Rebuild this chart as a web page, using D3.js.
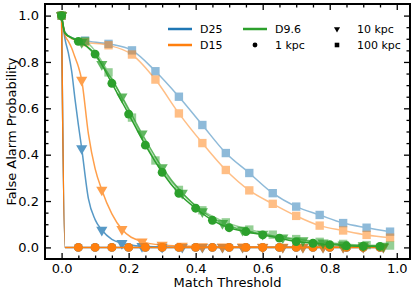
<!DOCTYPE html>
<html>
<head>
<meta charset="utf-8">
<script src="https://cdn.jsdelivr.net/npm/d3@7"></script>
<style>
  body { margin: 0; background: #fff; }
  text { font-family: "DejaVu Sans", sans-serif; }
</style>
</head>
<body>
<div id="canvas"></div>
<script>
"use strict"

/* marker thresholds for each distance */
const xCircle = [0, 0.05, 0.10, 0.15, 0.20, 0.25, 0.30, 0.35, 0.40, 0.45, 0.50, 0.55, 0.60, 0.65, 0.70, 0.75, 0.80, 0.85, 0.90, 0.95];
const xTriangle = [0, 0.06, 0.12, 0.18, 0.24, 0.30, 0.36, 0.42, 0.48, 0.54, 0.60, 0.66, 0.72, 0.78, 0.84, 0.90, 0.96];
const xSquare = [0, 0.07, 0.14, 0.21, 0.28, 0.35, 0.42, 0.49, 0.56, 0.63, 0.70, 0.77, 0.84, 0.91, 0.98];

/* false alarm probability at the marker thresholds */
const d25_1kpc = [1, 0, 0, 0, 0, 0, 0, 0, 0, 0, 0, 0, 0, 0, 0, 0, 0, 0, 0, 0];
const d15_1kpc = [1, 0, 0, 0, 0, 0, 0, 0, 0, 0, 0, 0, 0, 0, 0, 0, 0, 0, 0, 0];
const d96_1kpc = [1, 0.889, 0.834, 0.708, 0.575, 0.441, 0.324, 0.233, 0.169, 0.117, 0.085, 0.068, 0.054, 0.040, 0.025, 0.018, 0.012, 0.007, 0.005, 0.004];

const d25_10kpc = [1, 0.427, 0.075, 0.018, 0.005, 0.002, 0.001, 0.001, 0.001, 0.001, 0.001, 0.001, 0.001, 0.001, 0.001, 0.001, 0.001];
const d15_10kpc = [1, 0.722, 0.248, 0.078, 0.025, 0.010, 0.006, 0.004, 0.003, 0.003, 0.002, 0.002, 0.002, 0.002, 0.002, 0.002, 0.002];
const d96_10kpc = [1, 0.885, 0.790, 0.650, 0.490, 0.345, 0.235, 0.155, 0.104, 0.075, 0.058, 0.042, 0.030, 0.020, 0.012, 0.008, 0.006];

const d25_100kpc = [1, 0.892, 0.878, 0.850, 0.760, 0.650, 0.528, 0.407, 0.321, 0.234, 0.176, 0.140, 0.105, 0.085, 0.068];
const d15_100kpc = [1, 0.885, 0.872, 0.832, 0.724, 0.578, 0.450, 0.334, 0.246, 0.188, 0.136, 0.094, 0.073, 0.054, 0.042];
const d96_100kpc = [1, 0.890, 0.755, 0.560, 0.375, 0.248, 0.160, 0.108, 0.077, 0.055, 0.036, 0.024, 0.015, 0.010, 0.008];

/* extra points (line only) */
const kneeX_1kpc = [0.01];
const kneeY_d25_1kpc = [0];
const kneeY_d15_1kpc = [0];
const kneeX_d96_1kpc = [0.01, 0.03];
const kneeY_d96_1kpc = [0.925, 0.903];

const kneeX_d25_10kpc = [0.01, 0.02, 0.03, 0.04, 0.05, 0.08, 0.10, 0.15];
const kneeY_d25_10kpc = [0.90, 0.84, 0.76, 0.64, 0.53, 0.21, 0.12, 0.035];
const kneeX_d15_10kpc = [0.01, 0.02, 0.03, 0.04, 0.05, 0.08, 0.10, 0.15];
const kneeY_d15_10kpc = [0.915, 0.89, 0.86, 0.82, 0.78, 0.49, 0.34, 0.145];
const kneeX_d96_10kpc = [0.01, 0.03];
const kneeY_d96_10kpc = [0.925, 0.905];

const kneeX_100kpc = [0.01, 0.03];
const kneeY_d25_100kpc = [0.93, 0.905];
const kneeY_d15_100kpc = [0.925, 0.900];
const kneeY_d96_100kpc = [0.925, 0.905];

const xTicks = [0, 0.2, 0.4, 0.6, 0.8, 1.0];
const yTicks = [0, 0.2, 0.4, 0.6, 0.8, 1.0];

/* colours and marker styles */
const colors = {"D25": "#1f77b4", "D15": "#ff7f0e", "D9.6": "#2ca02c"};
const alphas = {"1 kpc": 1, "10 kpc": 0.75, "100 kpc": 0.5};

let series = [
    {det: "D25", dist: "1 kpc", xs: xCircle, ys: d25_1kpc, kx: kneeX_1kpc, ky: kneeY_d25_1kpc},
    {det: "D25", dist: "10 kpc", xs: xTriangle, ys: d25_10kpc, kx: kneeX_d25_10kpc, ky: kneeY_d25_10kpc},
    {det: "D25", dist: "100 kpc", xs: xSquare, ys: d25_100kpc, kx: kneeX_100kpc, ky: kneeY_d25_100kpc},
    {det: "D15", dist: "1 kpc", xs: xCircle, ys: d15_1kpc, kx: kneeX_1kpc, ky: kneeY_d15_1kpc},
    {det: "D15", dist: "10 kpc", xs: xTriangle, ys: d15_10kpc, kx: kneeX_d15_10kpc, ky: kneeY_d15_10kpc},
    {det: "D15", dist: "100 kpc", xs: xSquare, ys: d15_100kpc, kx: kneeX_100kpc, ky: kneeY_d15_100kpc},
    {det: "D9.6", dist: "1 kpc", xs: xCircle, ys: d96_1kpc, kx: kneeX_d96_1kpc, ky: kneeY_d96_1kpc},
    {det: "D9.6", dist: "10 kpc", xs: xTriangle, ys: d96_10kpc, kx: kneeX_d96_10kpc, ky: kneeY_d96_10kpc},
    {det: "D9.6", dist: "100 kpc", xs: xSquare, ys: d96_100kpc, kx: kneeX_100kpc, ky: kneeY_d96_100kpc}
];

let drawing = d3.select("#canvas")
    .append("svg")
    .attr("width", 415)
    .attr("height", 295);

/* plot frame in pixels */
let frameLeft = 45, frameRight = 410, frameTop = 4, frameBottom = 259;

let x = d3.scaleLinear().domain([-0.0495, 1.0395]).range([frameLeft, frameRight]);
let y = d3.scaleLinear().domain([-0.05, 1.05]).range([frameBottom, frameTop]);

/* marker shapes */
function markerPath(dist, scale) {
    if (dist === "1 kpc") return d3.symbol(d3.symbolCircle, 62 * scale)();
    if (dist === "10 kpc") return d3.symbol(d3.symbolTriangle, 54 * scale)();
    return d3.symbol(d3.symbolSquare, 70 * scale)();
}
function markerRotate(dist) {
    return dist === "10 kpc" ? " rotate(180)" : "";
}

/* curves + markers */
let line = d3.line()
    .x(d => x(d[0]))
    .y(d => y(d[1]))
    .curve(d3.curveMonotoneX);

let plot = drawing.append("g");

series.forEach(s => {
    let pts = s.xs.map((v, i) => [v, s.ys[i]]);
    let allPts = pts.concat(s.kx.map((v, i) => [v, s.ky[i]]))
        .sort((a, b) => a[0] - b[0]);
    let g = plot.append("g").attr("opacity", alphas[s.dist]);
    g.append("path")
        .attr("d", line(allPts))
        .attr("fill", "none")
        .attr("stroke", colors[s.det])
        .attr("stroke-width", 1.5);
    g.selectAll("path.mark")
        .data(pts)
        .enter()
        .append("path")
        .attr("class", "mark")
        .attr("d", markerPath(s.dist, 1))
        .attr("transform", d => "translate(" + x(d[0]) + "," + y(d[1]) + ")" + markerRotate(s.dist))
        .attr("fill", colors[s.det]);
});

/* axes: ticks point inward on all four sides */
let minorX = d3.range(1, 21).map(i => i * 0.05).filter(v => Math.abs(v * 5 - Math.round(v * 5)) > 1e-6);
let minorY = minorX;

function styleAxis(g) {
    g.select(".domain").remove();
    g.selectAll(".tick line").attr("stroke", "#000").attr("stroke-width", 1.3);
    g.selectAll(".tick text")
        .attr("font-family", "DejaVu Sans")
        .attr("font-size", 13)
        .attr("fill", "#000");
}

drawing.append("g")
    .attr("transform", "translate(0," + frameBottom + ")")
    .call(d3.axisBottom(x).tickValues(xTicks).tickFormat(d3.format(".1f")).tickSize(-6).tickPadding(4.5))
    .call(styleAxis);
drawing.append("g")
    .attr("transform", "translate(0," + frameBottom + ")")
    .call(d3.axisBottom(x).tickValues(minorX).tickFormat("").tickSize(-3.5))
    .call(styleAxis);
drawing.append("g")
    .attr("transform", "translate(0," + frameTop + ")")
    .call(d3.axisTop(x).tickValues(xTicks).tickFormat("").tickSize(-6))
    .call(styleAxis);
drawing.append("g")
    .attr("transform", "translate(0," + frameTop + ")")
    .call(d3.axisTop(x).tickValues(minorX).tickFormat("").tickSize(-3.5))
    .call(styleAxis);

drawing.append("g")
    .attr("transform", "translate(" + frameLeft + ",0)")
    .call(d3.axisLeft(y).tickValues(yTicks).tickFormat(d3.format(".1f")).tickSize(-6).tickPadding(6))
    .call(styleAxis);
drawing.append("g")
    .attr("transform", "translate(" + frameLeft + ",0)")
    .call(d3.axisLeft(y).tickValues(minorY).tickFormat("").tickSize(-3.5))
    .call(styleAxis);
drawing.append("g")
    .attr("transform", "translate(" + frameRight + ",0)")
    .call(d3.axisRight(y).tickValues(yTicks).tickFormat("").tickSize(-6))
    .call(styleAxis);
drawing.append("g")
    .attr("transform", "translate(" + frameRight + ",0)")
    .call(d3.axisRight(y).tickValues(minorY).tickFormat("").tickSize(-3.5))
    .call(styleAxis);

/* frame */
drawing.append("rect")
    .attr("x", frameLeft)
    .attr("y", frameTop)
    .attr("width", frameRight - frameLeft)
    .attr("height", frameBottom - frameTop)
    .attr("fill", "none")
    .attr("stroke", "#000")
    .attr("stroke-width", 2);

/* axis labels */
drawing.append("text")
    .attr("x", (frameLeft + frameRight) / 2)
    .attr("y", 287)
    .attr("text-anchor", "middle")
    .attr("font-size", 13)
    .text("Match Threshold");

drawing.append("text")
    .attr("transform", "translate(16," + (frameTop + frameBottom) / 2 + ") rotate(-90)")
    .attr("text-anchor", "middle")
    .attr("font-size", 13)
    .text("False Alarm Probability");

/* legend: three columns, two rows */
let legendItems = [
    {kind: "line", key: "D25", col: 0, row: 0},
    {kind: "line", key: "D15", col: 0, row: 1},
    {kind: "line", key: "D9.6", col: 1, row: 0},
    {kind: "mark", key: "1 kpc", col: 1, row: 1},
    {kind: "mark", key: "10 kpc", col: 2, row: 0},
    {kind: "mark", key: "100 kpc", col: 2, row: 1}
];
let colX = [168, 243, 325];
let rowY = [29, 45];

legendItems.forEach(it => {
    let lx = colX[it.col], ly = rowY[it.row];
    if (it.kind === "line") {
        drawing.append("line")
            .attr("x1", lx).attr("x2", lx + 24)
            .attr("y1", ly).attr("y2", ly)
            .attr("stroke", colors[it.key])
            .attr("stroke-width", 2.5);
    } else {
        drawing.append("path")
            .attr("d", markerPath(it.key, 0.3))
            .attr("transform", "translate(" + (lx + 12) + "," + ly + ")" + markerRotate(it.key))
            .attr("fill", "#000");
    }
    drawing.append("text")
        .attr("x", lx + 32)
        .attr("y", ly)
        .attr("dy", "0.36em")
        .attr("font-size", 11)
        .text(it.key);
});
</script>
</body>
</html>
